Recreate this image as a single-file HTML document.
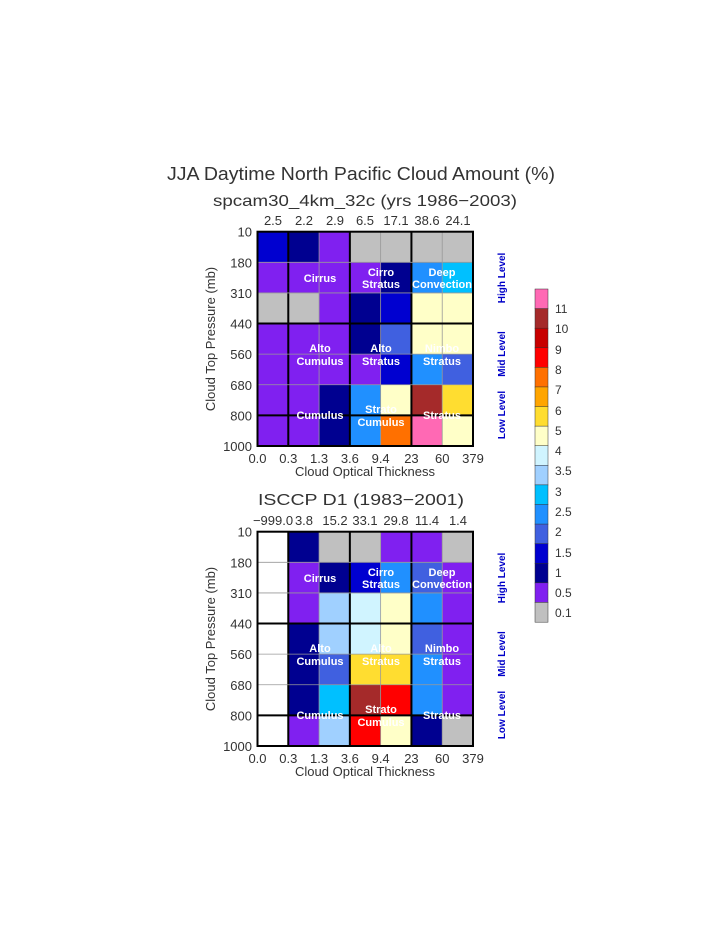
<!DOCTYPE html>
<html><head><meta charset="utf-8"><style>
html,body{margin:0;padding:0;background:#fff;}
svg{display:block}
text{font-family:"Liberation Sans",sans-serif;}
.t{fill:#333;font-size:13px;}
.w{fill:#fff;font-size:11px;font-weight:bold;text-anchor:middle;}
.b{fill:#0000c8;font-size:10px;font-weight:bold;text-anchor:middle;}
</style></head><body>
<svg id="s" width="723" height="935" viewBox="0 0 723 935" xmlns="http://www.w3.org/2000/svg">
<g id="cells"></g>
<text x="361" y="180" class="t" style="font-size:18px" text-anchor="middle" textLength="388" lengthAdjust="spacingAndGlyphs">JJA Daytime North Pacific Cloud Amount (%)</text>
<text x="365" y="206" class="t" style="font-size:16px" text-anchor="middle" textLength="304" lengthAdjust="spacingAndGlyphs">spcam30_4km_32c (yrs 1986−2003)</text>
<text x="361" y="505" class="t" style="font-size:16px" text-anchor="middle" textLength="206" lengthAdjust="spacingAndGlyphs">ISCCP D1 (1983−2001)</text>

<g class="t" text-anchor="middle">
<text x="273" y="225">2.5</text><text x="304" y="225">2.2</text><text x="335" y="225">2.9</text><text x="365" y="225">6.5</text><text x="396" y="225">17.1</text><text x="427" y="225">38.6</text><text x="458" y="225">24.1</text>
<text x="273" y="525">−999.0</text><text x="304" y="525">3.8</text><text x="335" y="525">15.2</text><text x="365" y="525">33.1</text><text x="396" y="525">29.8</text><text x="427" y="525">11.4</text><text x="458" y="525">1.4</text>
</g>
<g class="t" text-anchor="end" id="yl"></g>
<g class="t" text-anchor="middle" id="xl"></g>
<text class="t" text-anchor="middle" transform="translate(215,339) rotate(-90)">Cloud Top Pressure (mb)</text>
<text class="t" text-anchor="middle" transform="translate(215,639) rotate(-90)">Cloud Top Pressure (mb)</text>
<text class="t" x="365" y="476" text-anchor="middle">Cloud Optical Thickness</text>
<text class="t" x="365" y="776" text-anchor="middle">Cloud Optical Thickness</text>

<g class="b">
<text transform="translate(505,278) rotate(-90)">High Level</text>
<text transform="translate(505,354) rotate(-90)">Mid Level</text>
<text transform="translate(505,415) rotate(-90)">Low Level</text>
<text transform="translate(505,578) rotate(-90)">High Level</text>
<text transform="translate(505,654) rotate(-90)">Mid Level</text>
<text transform="translate(505,715) rotate(-90)">Low Level</text>
</g>
<g class="w">
<text x="320" y="282">Cirrus</text>
<text x="381" y="276">Cirro</text><text x="381" y="288">Stratus</text>
<text x="442" y="276">Deep</text><text x="442" y="288">Convection</text>
<text x="320" y="352">Alto</text><text x="320" y="365">Cumulus</text>
<text x="381" y="352">Alto</text><text x="381" y="365">Stratus</text>
<text x="442" y="352">Nimbo</text><text x="442" y="365">Stratus</text>
<text x="320" y="419">Cumulus</text>
<text x="381" y="413">Strato</text><text x="381" y="426">Cumulus</text>
<text x="442" y="419">Stratus</text>

<text x="320" y="582">Cirrus</text>
<text x="381" y="576">Cirro</text><text x="381" y="588">Stratus</text>
<text x="442" y="576">Deep</text><text x="442" y="588">Convection</text>
<text x="320" y="652">Alto</text><text x="320" y="665">Cumulus</text>
<text x="381" y="652">Alto</text><text x="381" y="665">Stratus</text>
<text x="442" y="652">Nimbo</text><text x="442" y="665">Stratus</text>
<text x="320" y="719">Cumulus</text>
<text x="381" y="713">Strato</text><text x="381" y="726">Cumulus</text>
<text x="442" y="719">Stratus</text>
</g>
<g class="t" style="font-size:12px" id="cbl">
<text x="555" y="313">11</text><text x="555" y="333">10</text><text x="555" y="354">9</text><text x="555" y="374">8</text><text x="555" y="394">7</text><text x="555" y="415">6</text><text x="555" y="435">5</text><text x="555" y="455">4</text><text x="555" y="475">3.5</text><text x="555" y="496">3</text><text x="555" y="516">2.5</text><text x="555" y="536">2</text><text x="555" y="557">1.5</text><text x="555" y="577">1</text><text x="555" y="597">0.5</text><text x="555" y="617">0.1</text>
</g>
</svg>
<script>
var C={pk:'#ff69b4',br:'#a52a2a',dr:'#c80000',rd:'#ff0000',or:'#ff7000',oa:'#ffa500',go:'#ffdd30',ly:'#ffffc8',lc:'#d0f4ff',lb:'#a0d0ff',ds:'#00c0ff',db:'#2090ff',rb:'#4060e0',mb:'#0000d0',nv:'#000090',pu:'#8020f0',gr:'#c0c0c0',wh:'#ffffff'};
var T=[['mb','nv','pu','gr','gr','gr','gr'],['pu','pu','pu','pu','nv','db','ds'],['gr','gr','pu','nv','mb','ly','ly'],['pu','pu','pu','nv','rb','ly','ly'],['pu','pu','pu','pu','mb','db','rb'],['pu','pu','nv','db','ly','br','go'],['pu','pu','nv','db','or','pk','ly']];
var B=[['wh','nv','gr','gr','pu','pu','gr'],['wh','pu','nv','mb','db','rb','pu'],['wh','pu','lb','lc','ly','db','pu'],['wh','nv','lb','lc','ly','rb','pu'],['wh','nv','rb','go','go','db','pu'],['wh','nv','ds','br','rd','db','pu'],['wh','pu','lb','rd','ly','nv','gr']];
var ns='http://www.w3.org/2000/svg',g=document.getElementById('cells');
function el(t,a){var e=document.createElementNS(ns,t);for(var k in a)e.setAttribute(k,a[k]);g.appendChild(e);return e;}
var x0=257.5,x1=473,cw=(x1-x0)/7,rh=214.3/7;
function grid(M,y0){
 for(var r=0;r<7;r++)for(var c=0;c<7;c++)el('rect',{x:x0+c*cw,y:y0+r*rh,width:cw+0.3,height:rh+0.3,fill:C[M[r][c]]});
 for(var i=1;i<7;i++){var th=(i==1||i==3||i==5);el('line',{x1:x0+i*cw,x2:x0+i*cw,y1:y0,y2:y0+7*rh,stroke:th?'#000':'#999','stroke-width':th?2:0.8});}
 for(var i=1;i<7;i++){var th=(i==3||i==6);el('line',{y1:y0+i*rh,y2:y0+i*rh,x1:x0,x2:x1,stroke:th?'#000':'#999','stroke-width':th?2:0.8});}
 el('rect',{x:x0,y:y0,width:x1-x0,height:7*rh,fill:'none',stroke:'#000','stroke-width':2});
 var yl=['10','180','310','440','560','680','800','1000'],xl=['0.0','0.3','1.3','3.6','9.4','23','60','379'];
 for(var i=0;i<8;i++){var t=document.createElementNS(ns,'text');t.setAttribute('x',252);t.setAttribute('y',y0+i*rh+5);t.textContent=yl[i];document.getElementById('yl').appendChild(t);
  t=document.createElementNS(ns,'text');t.setAttribute('x',x0+i*cw);t.setAttribute('y',y0+7*rh+17);t.textContent=xl[i];document.getElementById('xl').appendChild(t);}
}
grid(T,231.7);grid(B,531.7);
var cb=['pk','br','dr','rd','or','oa','go','ly','lc','lb','ds','db','rb','mb','nv','pu','gr'],h=333/17;
for(var i=0;i<17;i++)el('rect',{x:535,y:289+i*h,width:13,height:h+0.2,fill:C[cb[i]],stroke:'#333','stroke-width':0.5});
</script>
</body></html>
